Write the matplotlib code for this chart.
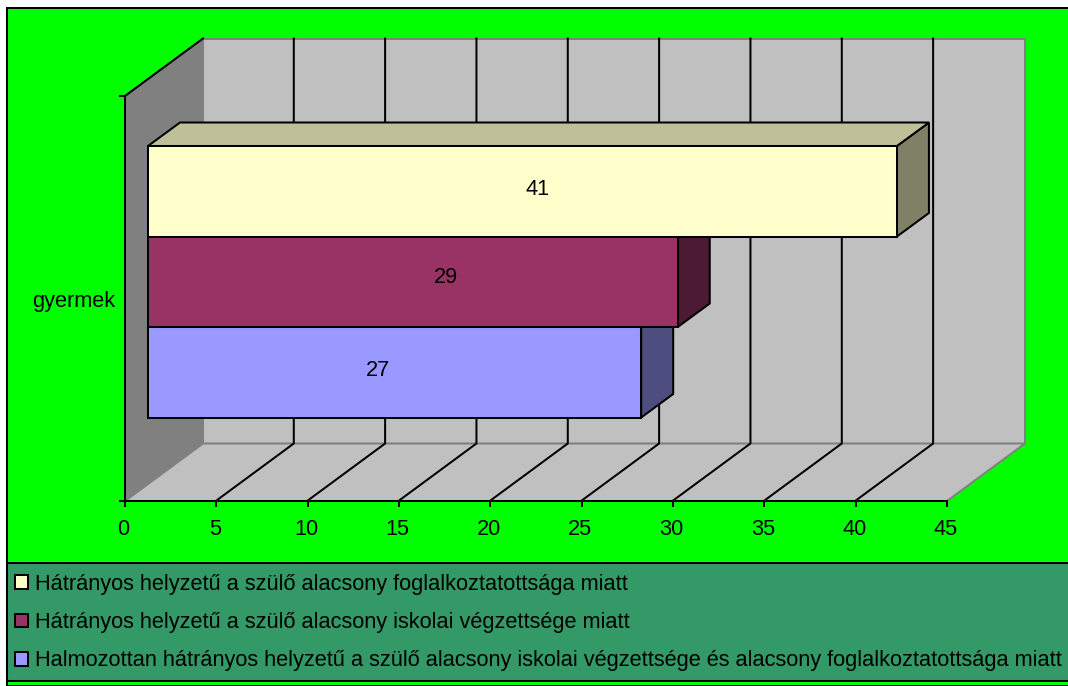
import matplotlib
matplotlib.use('Agg')
import matplotlib.pyplot as plt
from matplotlib.patches import Polygon, Rectangle
from matplotlib.transforms import ScaledTranslation

plt.rcParams['font.family'] = ['Liberation Sans', 'DejaVu Sans']

categories = ['gyermek']
series_names = ['Hátrányos helyzetű a szülő alacsony foglalkoztatottsága miatt',
                'Hátrányos helyzetű a szülő alacsony iskolai végzettsége miatt',
                'Halmozottan hátrányos helyzetű a szülő alacsony iskolai végzettsége és alacsony foglalkoztatottsága miatt']
series_values = [41, 29, 27]
x_ticks = [0, 5, 10, 15, 20, 25, 30, 35, 40, 45]
face_colors = ['#FFFFCC', '#993366', '#9999FF']
top_colors = ['#BFBF99', '#73264D', '#7373BF']
side_colors = ['#808066', '#4D1A33', '#4D4D80']
# labels in the original sit off the bar centre, shift in px
label_shift = [15, 33, -17]
label_shift_y = [2, 4, 2]

W, H = 1068, 686
LW = 1.45
FS = 15.7

fig = plt.figure(figsize=(W / 100, H / 100), dpi=100, facecolor='white')

# chart area and legend band
fig.patches.append(Rectangle((7 / W, 0), 1, 1 - 8 / H, transform=fig.transFigure,
                             facecolor='#00FF00', edgecolor='black', lw=LW, zorder=-2))
fig.patches.append(Rectangle((7 / W, 1 - 681 / H), 1, 118 / H, transform=fig.transFigure,
                             facecolor='#339966', edgecolor='black', lw=LW, zorder=-1))

ax = fig.add_axes([125 / W, 1 - 501 / H, 822 / W, 405 / H])
ax.set_xlim(0, 45)
ax.set_ylim(0, 1)
ax.patch.set_alpha(0)
for s in ['top', 'right']:
    ax.spines[s].set_visible(False)
for s in ['left', 'bottom']:
    ax.spines[s].set_linewidth(LW)
    ax.spines[s].set_zorder(6)

# px to data units
ux = 45 / 822
uy = 1 / 405
dx = 78 * ux
dy = 57.5 * uy

# walls
ax.add_patch(Polygon([(dx, dy), (45 + dx, dy), (45 + dx, 1 + dy), (dx, 1 + dy)], closed=True,
                     facecolor='#C0C0C0', edgecolor='#808080', lw=LW, clip_on=False, zorder=1))
ax.add_patch(Polygon([(0, 0), (dx, dy), (dx, 1 + dy), (0, 1)], closed=True,
                     facecolor='#808080', edgecolor='#808080', lw=LW, clip_on=False, zorder=1))
ax.add_patch(Polygon([(0, 0), (45, 0), (45 + dx, dy), (dx, dy)], closed=True,
                     facecolor='#C0C0C0', edgecolor='#808080', lw=LW, clip_on=False, zorder=1))
ax.plot([0, dx], [1, 1 + dy], color='black', lw=LW, clip_on=False, zorder=2)

# gridlines, back wall and floor
for t in x_ticks[1:-1]:
    ax.plot([t - 0.03, t - 0.03 + dx, t - 0.03 + dx], [0, dy, 1 + dy], color='black', lw=LW, clip_on=False, zorder=2)

# bars: front plane is pushed back, depth is drawn by hand around the barh
gap_x = 23 * ux
bar_dx = 32 * ux
bar_dy = 23.5 * uy
bar_h = 90.5 * uy
bottom = 83.5 * uy

handles = []
for i, (name, val) in enumerate(zip(series_names, series_values)):
    y0 = bottom + (2 - i) * bar_h
    x0 = gap_x
    x1 = gap_x + val
    y1 = y0 + bar_h
    z = 3 + i * 0.1
    ax.add_patch(Polygon([(x1, y0), (x1 + bar_dx, y0 + bar_dy), (x1 + bar_dx, y1 + bar_dy), (x1, y1)],
                         closed=True, facecolor=side_colors[i], edgecolor='black', lw=LW,
                         clip_on=False, zorder=z))
    if i == 0:
        ax.add_patch(Polygon([(x0, y1), (x0 + bar_dx, y1 + bar_dy), (x1 + bar_dx, y1 + bar_dy), (x1, y1)],
                             closed=True, facecolor=top_colors[i], edgecolor='black', lw=LW,
                             clip_on=False, zorder=z))
    b = ax.barh(y0, val, height=bar_h, left=x0, align='edge', color=face_colors[i],
                edgecolor='black', lw=LW, clip_on=False, zorder=4, label=name)
    handles.append(b)
    ax.text(x0 + val / 2 + label_shift[i] * ux, y0 + bar_h / 2 + label_shift_y[i] * uy, str(val),
            ha='center', va='center', fontsize=FS, color='black', zorder=5)

ax.set_xticks(x_ticks)
ax.set_xticklabels([str(t) for t in x_ticks], fontsize=FS)
ax.tick_params(axis='x', length=4, width=LW, direction='out', pad=9)
ax.set_yticks([0, 1])
ax.set_yticklabels([])
ax.tick_params(axis='y', which='major', length=4, width=LW)
ax.set_yticks([0.5], minor=True)
ax.set_yticklabels(categories, minor=True, fontsize=FS)
ax.tick_params(axis='y', which='minor', length=0, pad=7)

# tick text sits a bit left of the tick mark in the original
for lab in ax.get_xticklabels():
    lab.set_transform(lab.get_transform() + ScaledTranslation(-1.5 / 100, 0, fig.dpi_scale_trans))

leg = fig.legend(handles=handles, labels=series_names, loc='upper left',
                 bbox_to_anchor=(15 / W, 1 - 574 / H), frameon=False, fontsize=15.67,
                 handlelength=0.6, handleheight=0.6, handletextpad=0.3,
                 labelspacing=0.79, borderpad=0, borderaxespad=0)

fig.savefig('out.png', dpi=100, facecolor=fig.get_facecolor())
